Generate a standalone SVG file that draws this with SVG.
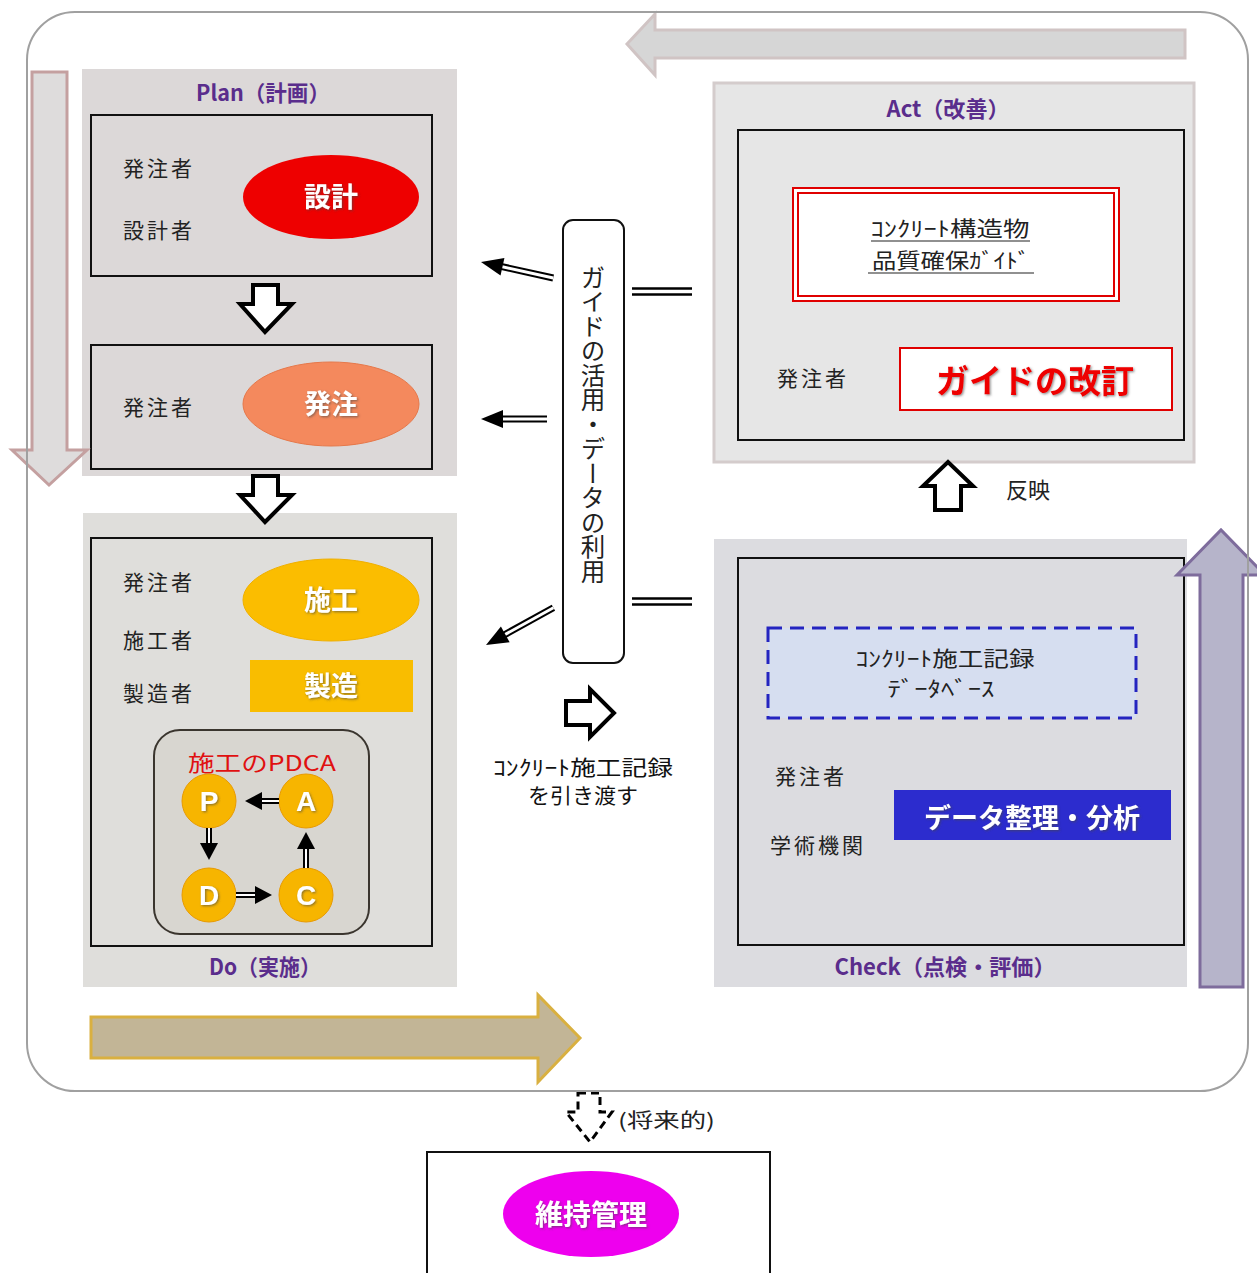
<svg xmlns="http://www.w3.org/2000/svg" width="1257" height="1273" viewBox="0 0 1257 1273">
<defs>
<style>
.jp{font-family:"Noto Sans CJK JP","Noto Sans",sans-serif;}
.lbl{font-family:"Noto Sans CJK JP",sans-serif;font-size:21px;fill:#222;letter-spacing:3px;}
.ttl{font-family:"Noto Sans CJK JP",sans-serif;font-size:22px;font-weight:bold;fill:#5a2d8c;}
.wb{font-family:"Noto Sans CJK JP",sans-serif;font-weight:bold;fill:#fff;text-anchor:middle;}
.box{fill:none;stroke:#111;stroke-width:2;}
.hollow{fill:#fff;stroke:#000;stroke-width:4;stroke-linejoin:miter;}
.dO{stroke:#000;stroke-width:7;}
.dI{stroke:#fff;stroke-width:3;}
.pO{stroke:#000;stroke-width:6;}
.pI{stroke:#fff;stroke-width:2;}
.pc{fill:#f7b500;stroke:#e89a00;stroke-width:1;}
.small{font-family:"Noto Sans CJK JP",sans-serif;font-size:21px;fill:#111;text-anchor:middle;}
</style>
<filter id="sh" x="-10%" y="-10%" width="120%" height="130%">
<feDropShadow dx="1.2" dy="1.2" stdDeviation="0.8" flood-color="#444" flood-opacity="0.6"/>
</filter>
</defs>

<rect x="0" y="0" width="1257" height="1273" fill="#fff"/>

<!-- Plan -->
<g id="plan">
<rect x="82" y="69" width="375" height="407" fill="#dcd8d8"/>
<text class="ttl" x="263" y="101" text-anchor="middle" textLength="134" lengthAdjust="spacingAndGlyphs">Plan（計画）</text>
<rect class="box" x="91" y="115" width="341" height="161"/>
<text class="lbl" x="123" y="176">発注者</text>
<text class="lbl" x="123" y="238">設計者</text>
<ellipse cx="331" cy="197" rx="88" ry="42" fill="#ee0000"/>
<text class="wb" x="331" y="207" font-size="27" filter="url(#sh)">設計</text>
<path class="hollow" d="M253,285 H278 V304 H292 L265,332 L240,304 H253 Z"/>
<rect class="box" x="91" y="345" width="341" height="124"/>
<text class="lbl" x="123" y="415">発注者</text>
<ellipse cx="331" cy="404" rx="88" ry="42" fill="#f4895d" stroke="#e6784a" stroke-width="1"/>
<text class="wb" x="331" y="414" font-size="27" filter="url(#sh)">発注</text>
</g>

<!-- Do -->
<g id="do">
<rect x="83" y="513" width="374" height="474" fill="#dfdedb"/>
<rect class="box" x="91" y="538" width="341" height="408"/>
<text class="lbl" x="123" y="590">発注者</text>
<text class="lbl" x="123" y="648">施工者</text>
<text class="lbl" x="123" y="701">製造者</text>
<ellipse cx="331" cy="600" rx="88" ry="41" fill="#fbbd00" stroke="#f0b000" stroke-width="1"/>
<text class="wb" x="331" y="610" font-size="27" filter="url(#sh)">施工</text>
<rect x="250" y="660" width="163" height="52" fill="#f9bd00"/>
<text class="wb" x="331" y="696" font-size="27" filter="url(#sh)">製造</text>
<text class="ttl" x="265" y="975" text-anchor="middle" textLength="112" lengthAdjust="spacingAndGlyphs">Do（実施）</text>
</g>

<path class="hollow" d="M253,476 H278 V495 H292 L265,522 L240,495 H253 Z"/>

<!-- PDCA -->
<g id="pdca">
<rect x="154" y="730" width="215" height="204" rx="26" fill="#d8d6d0" stroke="#3a352e" stroke-width="2"/>
<text class="jp" x="262" y="771" font-size="22" fill="#e01010" text-anchor="middle" textLength="148" lengthAdjust="spacingAndGlyphs">施工のPDCA</text>
<circle class="pc" cx="209" cy="801" r="27"/>
<circle class="pc" cx="306" cy="801" r="27"/>
<circle class="pc" cx="209" cy="895" r="27"/>
<circle class="pc" cx="306" cy="895" r="27"/>
<text class="wb" x="209" y="811" font-size="28" style="font-family:'Liberation Sans',sans-serif" filter="url(#sh)">P</text>
<text class="wb" x="306" y="811" font-size="28" style="font-family:'Liberation Sans',sans-serif" filter="url(#sh)">A</text>
<text class="wb" x="209" y="905" font-size="28" style="font-family:'Liberation Sans',sans-serif" filter="url(#sh)">D</text>
<text class="wb" x="306" y="905" font-size="28" style="font-family:'Liberation Sans',sans-serif" filter="url(#sh)">C</text>
<g transform="translate(245,801)"><line class="pO" x1="14" y1="0" x2="34" y2="0"/><line class="pI" x1="12" y1="0" x2="34" y2="0"/><polygon points="0,0 17,-9 17,9"/></g>
<g transform="translate(209,860) rotate(-90)"><line class="pO" x1="14" y1="0" x2="32" y2="0"/><line class="pI" x1="12" y1="0" x2="32" y2="0"/><polygon points="0,0 17,-9 17,9"/></g>
<g transform="translate(272,895) rotate(180)"><line class="pO" x1="14" y1="0" x2="36" y2="0"/><line class="pI" x1="12" y1="0" x2="36" y2="0"/><polygon points="0,0 17,-9 17,9"/></g>
<g transform="translate(306,832) rotate(90)"><line class="pO" x1="14" y1="0" x2="36" y2="0"/><line class="pI" x1="12" y1="0" x2="36" y2="0"/><polygon points="0,0 17,-9 17,9"/></g>
</g>

<!-- Center -->
<g id="center">
<rect x="563" y="220" width="61" height="443" rx="10" fill="#fff" stroke="#111" stroke-width="2"/>
<text class="jp" x="593" y="265" font-size="24.5" fill="#222" style="writing-mode:vertical-rl;text-orientation:upright">ガイドの活用・データの利用</text>
<path class="hollow" d="M566,701 H590 V689 L614,713 L590,737 V725 H566 Z"/>
<text class="small" x="583" y="775" textLength="180" lengthAdjust="spacingAndGlyphs">ｺﾝｸﾘｰﾄ施工記録</text>
<text class="small" x="583" y="803" textLength="110" lengthAdjust="spacingAndGlyphs">を引き渡す</text>
</g>

<!-- Act -->
<g id="act">
<rect x="714" y="83" width="480" height="379" fill="#e6e6e6" stroke="#d4cccc" stroke-width="3"/>
<text class="ttl" x="948" y="117" text-anchor="middle" textLength="123" lengthAdjust="spacingAndGlyphs">Act（改善）</text>
<rect class="box" x="738" y="130" width="446" height="310"/>
<rect x="793" y="188" width="326" height="113" fill="#fff" stroke="#e00000" stroke-width="2"/>
<rect x="798" y="193" width="316" height="103" fill="none" stroke="#e00000" stroke-width="2"/>
<text class="jp" x="950" y="236" font-size="21" fill="#222" text-anchor="middle" textLength="159" lengthAdjust="spacingAndGlyphs">ｺﾝｸﾘｰﾄ構造物</text>
<line x1="871" y1="241" x2="1030" y2="241" stroke="#222" stroke-width="1.2"/>
<text class="jp" x="951" y="268" font-size="21" fill="#222" text-anchor="middle" textLength="158" lengthAdjust="spacingAndGlyphs">品質確保ｶﾞｲﾄﾞ</text>
<line x1="868" y1="273" x2="1034" y2="273" stroke="#222" stroke-width="1.2"/>
<text class="lbl" x="777" y="386">発注者</text>
<rect x="900" y="348" width="272" height="62" fill="#fff" stroke="#e00000" stroke-width="2"/>
<text class="jp" x="1035" y="393" font-size="33" font-weight="bold" fill="#ee0000" text-anchor="middle" filter="url(#sh)">ガイドの改訂</text>
<text class="jp" x="1006" y="498" font-size="22" fill="#222">反映</text>
</g>

<!-- Check -->
<g id="check">
<rect x="714" y="539" width="473" height="448" fill="#dcdce0"/>
<rect class="box" x="738" y="558" width="446" height="387"/>
<rect x="768" y="628" width="368" height="90" fill="#d6def0" stroke="#2424c0" stroke-width="3" stroke-dasharray="14 8"/>
<text class="jp" x="945" y="666" font-size="21" fill="#222" text-anchor="middle" textLength="179" lengthAdjust="spacingAndGlyphs">ｺﾝｸﾘｰﾄ施工記録</text>
<text class="jp" x="941" y="696" font-size="21" fill="#222" text-anchor="middle" textLength="107" lengthAdjust="spacingAndGlyphs">ﾃﾞｰﾀﾍﾞｰｽ</text>
<text class="lbl" x="775" y="784">発注者</text>
<text class="lbl" x="770" y="853">学術機関</text>
<rect x="894" y="790" width="277" height="50" fill="#2c2cce"/>
<text class="wb" x="1032" y="828" font-size="27" filter="url(#sh)">データ整理・分析</text>
<text class="ttl" x="945" y="975" text-anchor="middle" textLength="221" lengthAdjust="spacingAndGlyphs">Check（点検・評価）</text>
</g>

<!-- big flow arrows -->
<g id="flow-arrows">
<path d="M1185,30 V58 H655 V75 L627,44 L655,14 V30 Z" fill="#d6d6d6" stroke="#d0c4c4" stroke-width="3"/>
<path d="M32,72 H67 V450 H87 L49,485 L12,450 H32 Z" fill="#dedcdc" stroke="#c4a0a0" stroke-width="3"/>
<path d="M1200,987 V575 H1177 L1221,530 L1265,575 H1243 V987 Z" fill="#b6b4ca" stroke="#7e6c9c" stroke-width="3"/>
<path d="M91,1017 H538 V995 L580,1038 L538,1082 V1058 H91 Z" fill="#c2b596" stroke="#d9b040" stroke-width="3"/>
</g>

<!-- connectors -->
<g id="connectors">
<g transform="translate(481,262) rotate(12.5)"><line class="dO" x1="18" y1="0" x2="74" y2="0"/><line class="dI" x1="14" y1="0" x2="74" y2="0"/><polygon points="0,0 22,-9 22,9"/></g>
<g transform="translate(481,419)"><line class="dO" x1="18" y1="0" x2="66" y2="0"/><line class="dI" x1="14" y1="0" x2="66" y2="0"/><polygon points="0,0 22,-9 22,9"/></g>
<g transform="translate(486,645) rotate(-28.9)"><line class="dO" x1="18" y1="0" x2="77" y2="0"/><line class="dI" x1="14" y1="0" x2="77" y2="0"/><polygon points="0,0 22,-9 22,9"/></g>
<line x1="632" y1="288.5" x2="692" y2="288.5" stroke="#000" stroke-width="2.5"/>
<line x1="632" y1="294.5" x2="692" y2="294.5" stroke="#000" stroke-width="2.5"/>
<line x1="632" y1="598.5" x2="692" y2="598.5" stroke="#000" stroke-width="2.5"/>
<line x1="632" y1="604.5" x2="692" y2="604.5" stroke="#000" stroke-width="2.5"/>
<path class="hollow" d="M935,510 V486 H923 L948,462 L973,486 H961 V510 Z"/>
<path d="M578,1093 H600 V1112 H612 L590,1142 L566,1112 H578 Z" fill="#fff" stroke="#000" stroke-width="3" stroke-dasharray="8 5"/>
</g>

<!-- outer border -->
<rect x="27" y="12" width="1221" height="1079" rx="48" fill="none" stroke="#a0a0a0" stroke-width="2"/>

<text class="jp" x="618" y="1128" font-size="20" fill="#222" textLength="97" lengthAdjust="spacingAndGlyphs">(将来的)</text>

<!-- Maintenance -->
<g id="maintenance">
<rect x="427" y="1152" width="343" height="135" fill="#fff" stroke="#111" stroke-width="2"/>
<ellipse cx="591" cy="1214" rx="88" ry="43" fill="#ee00ee"/>
<text class="wb" x="591" y="1225" font-size="28" filter="url(#sh)">維持管理</text>
</g>
</svg>
